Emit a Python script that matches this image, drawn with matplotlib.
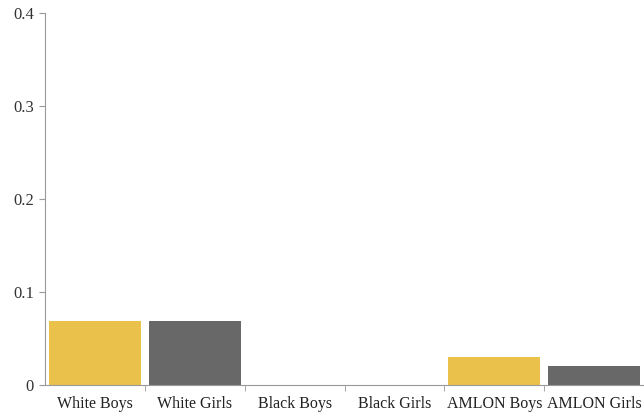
import numpy as np
import matplotlib.pyplot as plt
from matplotlib.ticker import FixedLocator, NullFormatter

categories = ['White Boys', 'White Girls', 'Black Boys', 'Black Girls', 'AMLON Boys', 'AMLON Girls']
values = [0.069, 0.069, 0.0, 0.0, 0.03, 0.02]
colors = ['#E9C14B', '#686868', '#E9C14B', '#686868', '#E9C14B', '#686868']
y_ticks = [0, 0.1, 0.2, 0.3, 0.4]
y_labels = ['0', '0.1', '0.2', '0.3', '0.4']

plt.rcParams['font.family'] = ['Liberation Serif', 'DejaVu Serif']

fig = plt.figure(figsize=(6.44, 4.16), dpi=100)
ax = fig.add_axes([0.070, 0.075, 0.930, 0.894])

x = np.arange(len(categories))
ax.bar(x, values, width=0.92, color=colors)

ax.set_xlim(-0.5, len(categories) - 0.5)
ax.set_ylim(0, 0.4)
ax.set_yticks(y_ticks)
ax.set_yticklabels(y_labels)
ax.set_xticks(x)
ax.set_xticklabels(categories)
ax.xaxis.set_minor_locator(FixedLocator(x[:-1] + 0.5))
ax.xaxis.set_minor_formatter(NullFormatter())

ax.tick_params(axis='x', which='major', length=0, pad=8, labelsize=11.5, labelcolor='#222222')
ax.tick_params(axis='x', which='minor', length=4, color='#999999', direction='out')
ax.tick_params(axis='y', length=4, color='#999999', direction='out', labelsize=12, labelcolor='#333333', pad=4)

for side in ['top', 'right']:
    ax.spines[side].set_visible(False)
for side in ['left', 'bottom']:
    ax.spines[side].set_color('#999999')
    ax.spines[side].set_linewidth(0.8)

fig.savefig('out.png', dpi=100)
